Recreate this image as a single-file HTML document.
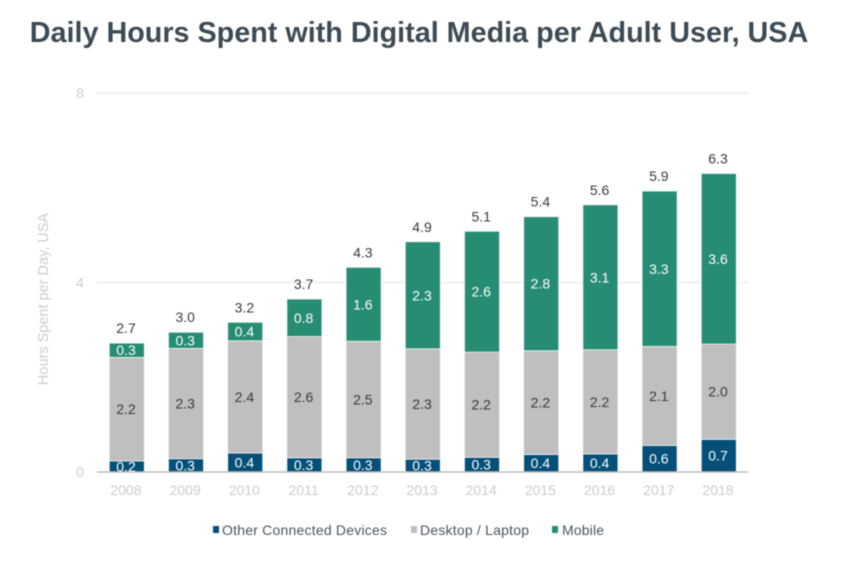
<!DOCTYPE html>
<html>
<head>
<meta charset="utf-8">
<title>Daily Hours Spent with Digital Media per Adult User, USA</title>
<style>
html,body{margin:0;padding:0;background:#fff;width:844px;height:561px;overflow:hidden}
svg{display:block;font-family:"Liberation Sans",sans-serif;filter:blur(0.5px)}
</style>
</head>
<body>
<svg id="chart" width="844" height="561" viewBox="0 0 844 561" xmlns="http://www.w3.org/2000/svg">
<text x="419" y="42" text-anchor="middle" font-size="28.76" font-weight="700" fill="#3d4a54">Daily Hours Spent with Digital Media per Adult User, USA</text>
<text transform="translate(48,299) rotate(-90)" text-anchor="middle" font-size="14.5" fill="#cccccc">Hours Spent per Day, USA</text>
<g id="grid"></g>
<g id="bars"></g>
<g id="axis"></g>
<g id="legend">
<g>
<rect x="213" y="526" width="6" height="7" fill="#045078"></rect>
<text x="222" y="535" font-size="14" textLength="165" fill="#4a5560">Other Connected Devices</text>
</g>
<g>
<rect x="411" y="526" width="6" height="7" fill="#bfbfbf"></rect>
<text x="420" y="535" font-size="14" textLength="109" fill="#4a5560">Desktop / Laptop</text>
</g>
<g>
<rect x="552" y="526" width="6" height="7" fill="#268c74"></rect>
<text x="562" y="535" font-size="14" textLength="42" fill="#4a5560">Mobile</text>
</g>
</g>
</svg>
<script>
const categories = ['2008','2009','2010','2011','2012','2013','2014','2015','2016','2017','2018'];
const otherDevices = [0.23,0.28,0.40,0.30,0.30,0.27,0.31,0.37,0.38,0.56,0.69];
const desktopLaptop = [2.19,2.33,2.37,2.56,2.46,2.33,2.22,2.19,2.20,2.09,2.01];
const mobile = [0.30,0.34,0.39,0.791,1.56,2.26,2.551,2.83,3.06,3.28,3.60];
const yTicks = [0,4,8];

const NS = 'http://www.w3.org/2000/svg';
const plotLeft = 97, plotRight = 748, baseY = 472, topY = 93, yMax = 8;
const firstCenter = 126, lastCenter = 718, barWidth = 35, barOffset = 0.8;

function yScale(v){ return baseY - (v / yMax) * (baseY - topY); }
function xScale(i){ return firstCenter + i * (lastCenter - firstCenter) / (categories.length - 1); }
function make(tag, attrs, parent, text){
  const el = document.createElementNS(NS, tag);
  for (const k in attrs) el.setAttribute(k, attrs[k]);
  if (text !== undefined) el.textContent = text;
  parent.appendChild(el);
  return el;
}

const grid = document.getElementById('grid');
const axis = document.getElementById('axis');
const bars = document.getElementById('bars');

yTicks.forEach(function(t){
  if (t !== 0) {
    const line = make('line', {x1:plotLeft, x2:plotRight, y1:yScale(t), y2:yScale(t), stroke:'#ececec', 'stroke-width':1.5}, grid);
    
    
  }
  const label = make('text', {x:80, y:yScale(t)+5, 'text-anchor':'middle', 'font-size':14, fill:'#cccccc'}, axis, String(t));
  
  
});

const seriesList = [
  {key:'other', values:otherDevices, fill:'#045078', text:'#ffffff'},
  {key:'desktop', values:desktopLaptop, fill:'#bfbfbf', text:'#3a3a3a'},
  {key:'mobile', values:mobile, fill:'#268c74', text:'#ffffff'}
];

categories.forEach(function(cat, i){
  const cx = xScale(i);
  let cum = 0;
  seriesList.forEach(function(s){
    const v = s.values[i];
    const y1 = yScale(cum + v), y0 = yScale(cum);
    const rect = make('rect', {x:cx + barOffset - barWidth/2, y:y1, width:barWidth, height:y0 - y1, fill:s.fill, stroke:'#f1f4f3', 'stroke-width':0.8}, bars);
    
    
    const lab = make('text', {x:cx, y:(y0 + y1)/2 + 5, 'text-anchor':'middle', 'font-size':14, fill:s.text}, bars, v.toFixed(1));
    
    
    cum += v;
  });
  const total = make('text', {x:cx, y:yScale(cum) - 10, 'text-anchor':'middle', 'font-size':14, fill:'#3a3a3a'}, bars, cum.toFixed(1));
  
  
  const tick = make('text', {x:cx, y:495, 'text-anchor':'middle', 'font-size':14, fill:'#cccccc'}, axis, cat);
  
  
});

const baseline = make('line', {x1:plotLeft, x2:plotRight, y1:baseY, y2:baseY, stroke:'#bfbfbf', 'stroke-width':1.5}, axis);


</script>
</body>
</html>
